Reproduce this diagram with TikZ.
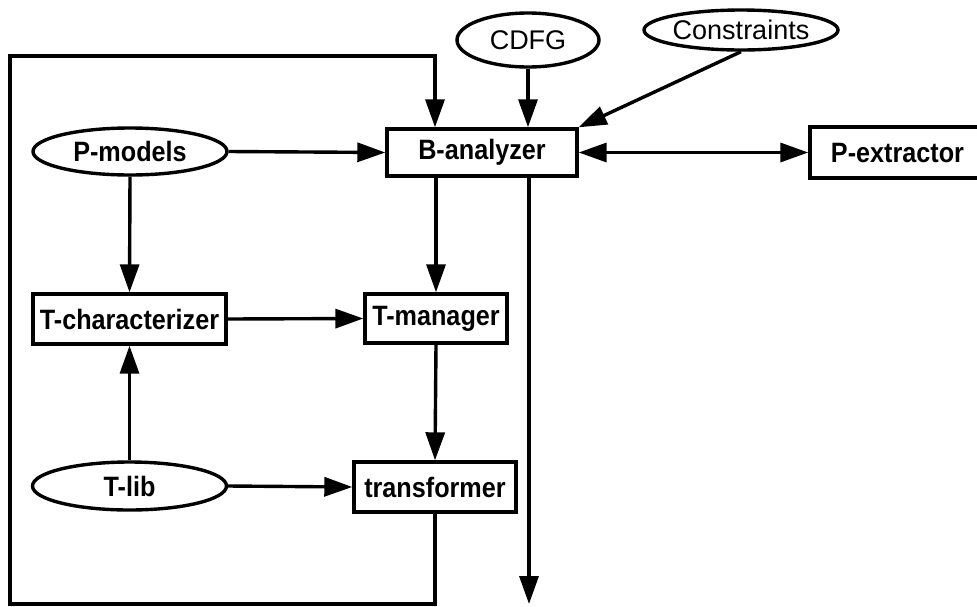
\documentclass[tikz,border=0pt]{standalone}
\usepackage{fontspec}
\setmainfont{Liberation Sans}
\newfontfamily\boldnarrow[FakeStretch=0.9]{Liberation Sans Bold}
\usetikzlibrary{shapes.geometric,arrows.meta}
\begin{document}
\begin{tikzpicture}[x=1pt,y=-1pt,
  line width=3.4pt,
  box/.style={draw,rectangle,inner sep=0pt,font=\fontsize{28}{30}\selectfont\boldnarrow},
  oval/.style={draw,ellipse,inner sep=0pt,font=\fontsize{28}{30}\selectfont\boldnarrow},
  ovalr/.style={draw,ellipse,inner sep=0pt,font=\fontsize{27}{30}\selectfont},
  arr/.style={-{Triangle[length=28pt,width=19pt]}},
  darr/.style={{Triangle[length=28pt,width=19pt]}-{Triangle[length=28pt,width=19pt]}}]
\useasboundingbox (0,0) rectangle (977,606);
% nodes
\node[ovalr,minimum width=142pt,minimum height=54pt] (cdfg) at (528,40) {CDFG};
\node[ovalr,minimum width=194pt,minimum height=40pt] (cons) at (741,30) {Constraints};
\node[box,minimum width=190pt,minimum height=47pt] (ban) at (482,152.5) {B-analyzer};
\node[box,minimum width=175pt,minimum height=51pt] (pext) at (897.5,152.5) {P-extractor};
\node[oval,minimum width=194pt,minimum height=47pt] (pmod) at (130,151.5) {P-models};
\node[box,minimum width=193pt,minimum height=50pt] (tchar) at (129.5,319) {T-characterizer};
\node[box,minimum width=142pt,minimum height=49pt] (tman) at (436,318.5) {T-manager};
\node[oval,minimum width=194pt,minimum height=48pt] (tlib) at (129.5,486) {T-lib};
\node[box,minimum width=162pt,minimum height=50pt] (trans) at (435,487) {transformer};
\coordinate (lb) at (10,604);
\coordinate (lt) at (10,56);
\coordinate (out) at (529,604);
% connectors
\draw[arr] (cdfg.south) -- (ban.north -| cdfg.south);
\draw[arr] (cons.south) -- (ban.north east);
\draw[darr] (ban.east) -- (pext.west);
\draw[arr] (pmod.east) -- (ban.west);
\draw[arr] (pmod.south) -- (tchar.north);
\draw[arr] (ban.south -| tman.north) -- (tman.north);
\draw[arr] (tchar.east) -- (tman.west);
\draw[arr] (tlib.north) -- (tchar.south);
\draw[arr] (tlib.east) -- (trans.west);
\draw[arr] (tman.south) -- (trans.north);
\draw[arr] (trans.south) |- (lb) -- (lt) -| (ban.north -| trans.south);
\draw[arr] (ban.south -| out) -- (out);
\end{tikzpicture}
\end{document}
